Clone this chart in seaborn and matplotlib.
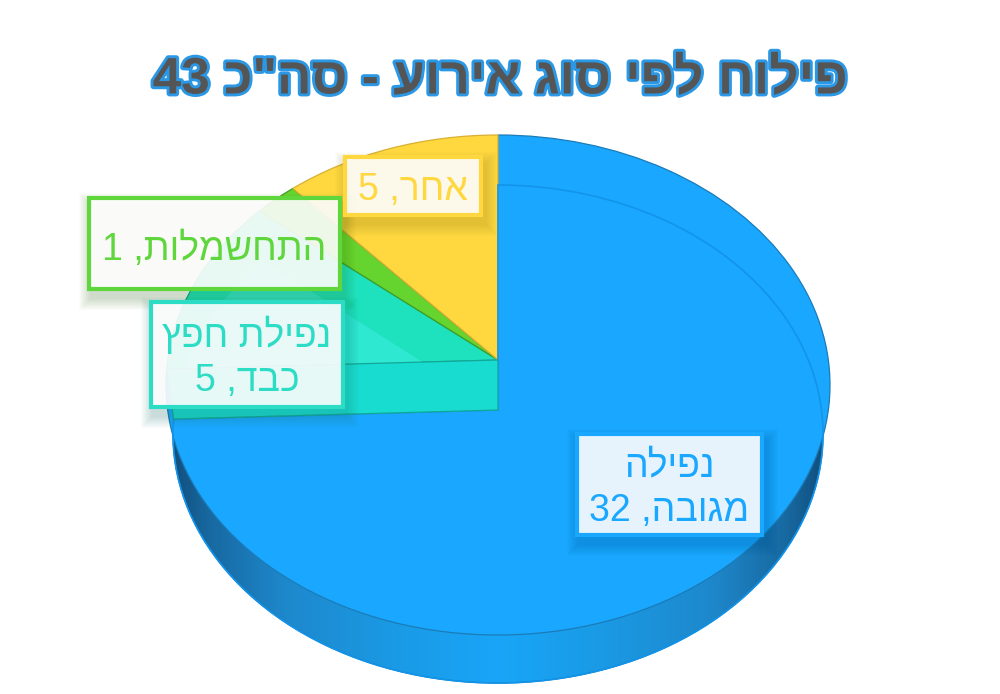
import numpy as np
import matplotlib
matplotlib.use('Agg')
import matplotlib.pyplot as plt
import matplotlib.patheffects as pe
import seaborn as sns
from matplotlib.colors import LinearSegmentedColormap, to_rgb
from matplotlib.patches import Rectangle
from matplotlib.transforms import Transform

# data
categories = [['נפילה', 'מגובה'], ['נפילת חפץ', 'כבד'], ['התחשמלות'], ['אחר']]
values = [32, 5, 1, 5]
title_text = 'פילוח לפי סוג אירוע - סה"כ'
slice_colors = ['#19a7ff', '#1ee2be', '#66d42e', '#ffd73f']
edge_colors = ['#1a7cb8', '#12a898', '#3f9f22', '#d8b032']
label_colors = ['#19a7ff', '#2ddcc4', '#5ed63c', '#ffd73f']

sns.set_theme(style='white')
plt.rcParams['font.family'] = ['Liberation Sans', 'DejaVu Sans']


def rtl(s):
    # matplotlib has no bidi, so hebrew goes in visual order
    return s[::-1]


class Tilt(Transform):
    # perspective view of the unit pie, output in pixels
    input_dims = 2
    output_dims = 2

    def __init__(self, cx, apex, top, bottom, rx):
        super().__init__()
        self.cx = cx
        self.apex = apex
        self.c = (2 * apex - top - bottom) / (top - bottom)
        self.a = top * (1 + self.c) - apex
        mid = (top + bottom) / 2
        v0 = (mid - apex) / (self.a - self.c * mid)
        self.d = rx * (1 + self.c * v0) / np.sqrt(1 - v0 ** 2)

    def transform_non_affine(self, values):
        xy = np.asarray(values, dtype=float)
        w = 1 + self.c * xy[:, 1]
        return np.column_stack((self.cx + self.d * xy[:, 0] / w,
                                (self.a * xy[:, 1] + self.apex) / w))


def pie_layer(vals, colors, tilt, zorder, edge='none', lw=0):
    wedges = ax.pie(vals, colors=colors, startangle=90, counterclock=False)[0]
    for w in wedges:
        w.set_transform(tilt + ax.transData)
        w.set_edgecolor(edge)
        w.set_linewidth(lw)
        w.set_zorder(zorder)
    return wedges


fig = plt.figure(figsize=(10, 6.94), dpi=100)
ax = fig.add_axes([0, 0, 1, 1])

upper = Tilt(498, 360, 135, 635, 332)
lower = Tilt(498, 410, 185, 683, 325)

top_wedges = pie_layer(values, sns.color_palette(slice_colors), upper, 3)
for w, e in zip(top_wedges, edge_colors):
    w.set_edgecolor(e)
    w.set_linewidth(0.9)

# side wall of the big slice
wall_cmap = LinearSegmentedColormap.from_list('wall', [
    (0.0, '#12507f'), (0.05, '#17689f'), (0.17, '#1e88cc'), (0.35, '#1a9be6'),
    (0.5, '#19a5f8'), (0.65, '#1a9be6'), (0.83, '#1e88cc'), (0.95, '#17689f'),
    (1.0, '#12507f')])
wall = ax.imshow(np.linspace(0, 1, 300)[None, :], cmap=wall_cmap, aspect='auto',
                 extent=(173, 823, 694, 0), zorder=1)
rest = sum(values[1:])
wall_shape = pie_layer([values[0], rest], ['none', 'none'], lower, 0)[0]
wall.set_clip_path(wall_shape)

front = pie_layer([values[0], rest], ['none', 'none'], lower, 2)
front[0].set_edgecolor('#0f6fb0')
front[0].set_linewidth(0.9)

# back rim seen through the top of the big slice
rim = pie_layer([values[0], rest], ['none', 'none'], lower, 4)
rim[0].set_edgecolor('#1294ea')
rim[0].set_linewidth(1.2)
rim[0].set_clip_path(top_wedges[0])

# lighter patch where the lower teal slice shows through
glow = pie_layer([values[0], values[1], sum(values[2:])], ['none', '#2ee8d2', 'none'], lower, 4)
glow[1].set_clip_path(top_wedges[1])

# inner wall of the teal slice, over the blue top
corner = np.array([[np.cos(np.radians(top_wedges[0].theta1)),
                    np.sin(np.radians(top_wedges[0].theta1))], [0, 0]])
top_pts = upper.transform(corner)
low_pts = lower.transform(corner)
quad = np.vstack((top_pts, low_pts[::-1]))
ax.fill(quad[:, 0], quad[:, 1], color='#17dccf', ec='#12a898', lw=0.9, zorder=5)

ax.set_xlim(0, 1000)
ax.set_ylim(694, 0)
ax.set_aspect('auto')
ax.axis('off')

# label boxes, same order as the slices
boxes = [(575, 432, 189, 105), (149, 300, 196, 109), (87, 196, 255, 95), (343, 155, 140, 62)]
text_y = [489, 358, 250, 190]
for (x, y, w, h), ty, name, val, col in zip(boxes, text_y, categories, values, label_colors):
    shadow = tuple(0.55 * c for c in to_rgb(col))
    for i in range(12):
        ax.add_patch(Rectangle((x + 3 - i, y + 8 - i), w + 2 * i, h + 2 * i, fc=shadow,
                               ec='none', alpha=0.02, zorder=6))
    ax.add_patch(Rectangle((x + 2, y + 2), w - 4, h - 4, fc='white', ec='none', alpha=0.9, zorder=7))
    ax.add_patch(Rectangle((x + 2, y + 2), w - 4, h - 4, fc='none', ec=col, lw=3, zorder=8))
    lines = [rtl(n) for n in name]
    lines[-1] = f'{val} ,' + lines[-1]
    ax.text(x + w / 2, ty, '\n'.join(lines), color=col, fontsize=27, ha='center', va='center',
            linespacing=1.3, zorder=9)

ax.text(500, 80, f'{sum(values)} ' + rtl(title_text), color='#555555', fontsize=37,
        fontweight='bold', ha='center', va='center', zorder=9,
        path_effects=[pe.withStroke(linewidth=4.2, foreground='#2b98e6')])

plt.savefig('out.png', dpi=100)
